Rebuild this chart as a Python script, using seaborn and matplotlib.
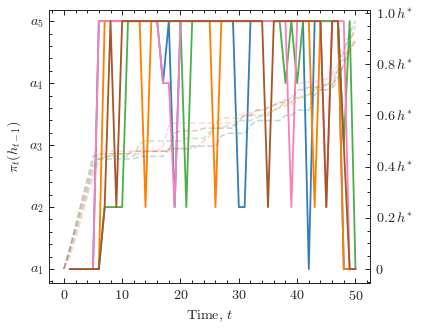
import numpy as np
import pandas as pd
import seaborn as sns
import matplotlib.pyplot as plt
from matplotlib.ticker import MultipleLocator, AutoMinorLocator, FixedLocator, FixedFormatter

# chosen action per step (1..5 -> a_1..a_5), t = 1..50
t_act = list(range(1, 51))
blue_a = [1,1,1,1,1, 5,5,5,5,5, 5,5,5,5,5, 5,4,5,2,5, 5,5,5,5,5, 5,5,5,5,2, 2,5,5,5,5, 5,5,5,5,5, 5,1,5,5,5, 5,5,1,1,1]
orange_a = [1,1,1,1,1, 1,5,5,5,5, 5,5,5,2,5, 5,5,5,5,5, 5,5,5,5,5, 2,5,5,5,5, 5,5,5,5,5, 5,5,5,5,5, 5,5,2,5,5, 5,5,1,1,1]
green_a = [1,1,1,1,1, 1,2,2,2,2, 5,5,5,5,5, 5,5,5,5,5, 2,5,5,5,5, 5,5,5,5,5, 5,5,5,5,5, 5,5,4,5,4, 5,5,5,5,5, 5,5,3,5,1]
pink_a = [1,1,1,1,1, 5,5,5,5,5, 5,5,5,5,5, 5,4,4,2,5, 5,5,5,5,5, 5,5,5,5,5, 5,5,5,5,5, 5,5,5,2,5, 5,5,5,5,2, 5,5,5,1,1]
brown_a = [1,1,1,1,1, 1,2,5,2,5, 5,5,5,5,5, 5,5,5,5,5, 5,5,5,5,5, 5,5,5,5,5, 5,5,5,5,2, 5,5,5,5,5, 5,5,5,5,2, 5,5,3,1,1]

# h_t as a fraction of h*, t = 0..50 (right axis, dashed)
t_h = list(range(0, 51))
blue_h = [0.00,0.07,0.15,0.23,0.31, 0.40,0.43,0.43,0.43,0.43, 0.43,0.43,0.43,0.44,0.44,
          0.44,0.44,0.44,0.47,0.47, 0.47,0.47,0.48,0.48,0.48, 0.48,0.48,0.52,0.53,0.53,
          0.53,0.53,0.56,0.58,0.58, 0.58,0.58,0.58,0.60,0.60, 0.62,0.62,0.62,0.68,0.70,
          0.70,0.71,0.78,0.85,0.92, 0.97]
orange_h = [0.00,0.05,0.12,0.20,0.28, 0.36,0.42,0.44,0.44,0.45, 0.45,0.45,0.45,0.45,0.46,
            0.46,0.46,0.46,0.46,0.47, 0.47,0.47,0.47,0.48,0.50, 0.52,0.57,0.59,0.59,0.59,
            0.59,0.60,0.60,0.60,0.60, 0.61,0.62,0.63,0.64,0.64, 0.66,0.68,0.68,0.70,0.72,
            0.72,0.74,0.78,0.82,0.86, 0.90]
green_h = [0.00,0.08,0.16,0.25,0.33, 0.42,0.43,0.44,0.44,0.44, 0.44,0.44,0.44,0.49,0.50,
           0.50,0.50,0.50,0.50,0.50, 0.50,0.51,0.51,0.51,0.51, 0.535,0.55,0.55,0.56,0.56,
           0.58,0.58,0.58,0.59,0.60, 0.60,0.62,0.63,0.66,0.66, 0.67,0.67,0.68,0.70,0.70,
           0.70,0.70,0.74,0.80,0.88, 0.95]
pink_h = [0.00,0.06,0.14,0.22,0.30, 0.38,0.45,0.46,0.46,0.46, 0.46,0.46,0.46,0.46,0.46,
          0.46,0.46,0.48,0.56,0.57, 0.57,0.57,0.57,0.57,0.57, 0.57,0.57,0.57,0.57,0.57,
          0.60,0.61,0.61,0.62,0.62, 0.63,0.64,0.65,0.66,0.67, 0.72,0.73,0.73,0.73,0.74,
          0.74,0.76,0.80,0.86,0.90, 0.93]
brown_h = [0.00,0.08,0.17,0.26,0.35, 0.44,0.45,0.45,0.45,0.45, 0.45,0.45,0.46,0.46,0.46,
           0.46,0.46,0.46,0.46,0.53, 0.54,0.54,0.54,0.54,0.55, 0.55,0.55,0.55,0.55,0.55,
           0.58,0.60,0.60,0.62,0.62, 0.63,0.64,0.65,0.65,0.65, 0.70,0.70,0.71,0.71,0.71,
           0.72,0.72,0.75,0.80,0.85, 0.89]

names = ['blue', 'orange', 'green', 'pink', 'brown']
colors = ['#377eb8', '#ff7f00', '#4daf4a', '#f781bf', '#a65628']
action_labels = [r'$a_1$', r'$a_2$', r'$a_3$', r'$a_4$', r'$a_5$']
h_ticks = [0, 0.2, 0.4, 0.6, 0.8, 1.0]
h_labels = ['0', r'$0.2\,h^{\!*}$', r'$0.4\,h^{\!*}$', r'$0.6\,h^{\!*}$',
            r'$0.8\,h^{\!*}$', r'$1.0\,h^{\!*}$']

acts = pd.concat([pd.DataFrame({'t': t_act, 'a': a, 'run': n})
                  for n, a in zip(names, [blue_a, orange_a, green_a, pink_a, brown_a])])
hs = pd.concat([pd.DataFrame({'t': t_h, 'h': h, 'run': n})
                for n, h in zip(names, [blue_h, orange_h, green_h, pink_h, brown_h])])
pal = dict(zip(names, colors))

sns.set_style('ticks')
plt.rcParams['font.family'] = ['cmr10', 'DejaVu Serif']
plt.rcParams['mathtext.fontset'] = 'cm'
plt.rcParams['axes.unicode_minus'] = False
plt.rcParams['axes.formatter.use_mathtext'] = True
plt.rcParams['font.size'] = 8
plt.rcParams['axes.linewidth'] = 0.6

fig = plt.figure(figsize=(421 / 120, 329 / 120), dpi=120)
ax = fig.add_axes([0.117, 0.1407, 0.762, 0.829])

sns.lineplot(data=acts, x='t', y='a', hue='run', hue_order=names, palette=pal,
             legend=False, linewidth=1.1, ax=ax)
ax.set_xlim(-2.5, 52.5)
ax.set_ylim(0.78, 5.18)
ax.set_yticks([1, 2, 3, 4, 5])
ax.set_yticklabels(action_labels)
ax.yaxis.set_minor_locator(AutoMinorLocator(5))
ax.xaxis.set_major_locator(MultipleLocator(10))
ax.xaxis.set_minor_locator(MultipleLocator(2))
ax.set_xlabel(r'Time, $t$', fontsize=8.5)
ax.set_ylabel(r'$\pi_t(h_{t-1})$', fontsize=8.5)
ax.tick_params(which='both', direction='in', top=True, right=False, width=0.6, labelsize=8.5)
ax.tick_params(which='major', length=3)
ax.tick_params(which='minor', length=1.6)

ax2 = ax.twinx()
sns.lineplot(data=hs, x='t', y='h', hue='run', hue_order=names, palette=pal,
             legend=False, linewidth=1.0, linestyle='--', alpha=0.3, ax=ax2)
ax2.set_ylim(-0.0535, 1.0117)
ax2.yaxis.set_major_locator(FixedLocator(h_ticks))
ax2.yaxis.set_major_formatter(FixedFormatter(h_labels))
ax2.yaxis.set_minor_locator(MultipleLocator(0.05))
ax2.set_ylabel('')
ax2.tick_params(which='both', direction='in', width=0.6, labelsize=8.5)
ax2.tick_params(which='major', length=3)
ax2.tick_params(which='minor', length=1.6)
for sp in ax2.spines.values():
    sp.set_linewidth(0.6)

fig.savefig('out.png', dpi=120)
